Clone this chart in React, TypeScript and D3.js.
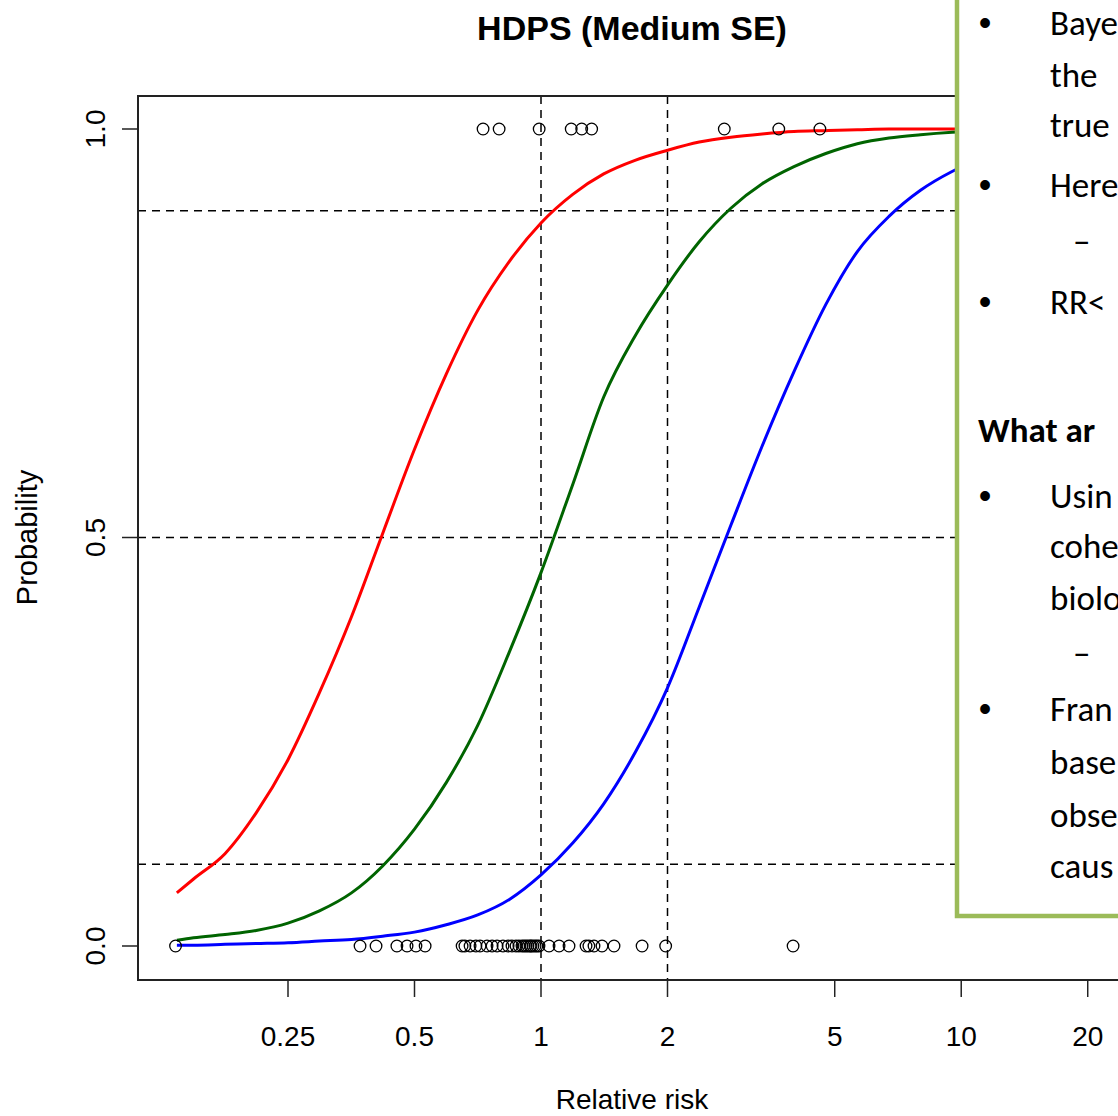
import React from 'react';
import * as d3 from 'd3';

// relative-risk grid the three posterior curves were read at
const rrGrid = [0.136, 0.149, 0.177, 0.21, 0.25, 0.297, 0.354, 0.42, 0.5, 0.595, 0.707, 0.841, 1, 1.19, 1.41, 1.68, 2, 2.38, 2.83, 3.36, 4, 4.76, 5.66, 6.73, 8, 9.51, 11.3];
const redProb = [0.065, 0.082, 0.113, 0.163, 0.228, 0.31, 0.403, 0.505, 0.608, 0.7, 0.778, 0.838, 0.885, 0.92, 0.945, 0.962, 0.974, 0.984, 0.99, 0.994, 0.997, 0.998, 0.999, 1, 1, 1, 1];
const greenProb = [0.007, 0.01, 0.014, 0.019, 0.028, 0.043, 0.065, 0.098, 0.143, 0.2, 0.27, 0.36, 0.457, 0.565, 0.672, 0.748, 0.809, 0.862, 0.903, 0.933, 0.954, 0.97, 0.982, 0.989, 0.993, 0.996, 0.998];
const blueProb = [0.001, 0.001, 0.002, 0.003, 0.004, 0.006, 0.008, 0.012, 0.017, 0.026, 0.038, 0.057, 0.087, 0.126, 0.174, 0.238, 0.316, 0.415, 0.515, 0.612, 0.703, 0.785, 0.85, 0.893, 0.925, 0.948, 0.965];

// observed estimates: outcome 1 (top row) and 0 (bottom row)
const rrTop = [0.728, 0.795, 0.99, 1.18, 1.25, 1.32, 2.73, 3.68, 4.61];
const rrBottom = [0.135, 0.371, 0.405, 0.454, 0.48, 0.504, 0.53, 0.649, 0.659, 0.678, 0.7, 0.716, 0.744, 0.765, 0.786, 0.812, 0.835, 0.853, 0.872, 0.886, 0.901, 0.911, 0.921, 0.931, 0.942, 0.947, 0.957, 0.968, 0.978, 0.989, 1.045, 1.104, 1.166, 1.28, 1.3, 1.337, 1.397, 1.492, 1.74, 1.98, 3.98];

const xTicks = [0.25, 0.5, 1, 2, 5, 10, 20];
const xTickLabels = ['0.25', '0.5', '1', '2', '5', '10', '20'];
const yTicks = [0, 0.5, 1];
const yTickLabels = ['0.0', '0.5', '1.0'];
const vRefs = [1, 2];
const hRefs = [0.1, 0.5, 0.9];

// the slide's text box that covers the right side of the plot (only its visible part)
const boxTexts = ['Baye', 'the', 'true', 'Here', '–', 'RR<', 'What ar', 'Usin', 'cohe', 'biolo', '–', 'Fran', 'base', 'obse', 'caus'];
const boxKinds = ['bullet', 'text', 'text', 'bullet', 'dash', 'bullet', 'head', 'bullet', 'text', 'text', 'dash', 'bullet', 'text', 'text', 'text'];
const boxBaselines = [35, 87, 137, 197, 253, 314, 442, 508, 558, 610, 665, 721, 774, 827, 878];

export default function App() {
  const width = 1118;
  const height = 1116;
  const left = 138;
  const right = 1126;
  const top = 96;
  const bottom = 980;

  const x = d3.scaleLog().domain([1, 2]).range([541, 667.5]);
  const y = d3.scaleLinear().domain([0, 1]).range([946, 129]);

  const line = d3
    .line<[number, number]>()
    .x(d => x(d[0]))
    .y(d => y(d[1]))
    .curve(d3.curveMonotoneX);

  const series = [
    { color: '#ff0000', values: redProb },
    { color: '#006400', values: greenProb },
    { color: '#0000ff', values: blueProb },
  ];

  const axisFont = '"Liberation Sans", Arial, sans-serif';
  const boxFont = 'Carlito, Lato, "Open Sans", sans-serif';

  return (
    <svg
      width={width}
      height={height}
      style={{ position: 'absolute', left: 0, top: 0, display: 'block', background: '#fff' }}
    >
      <rect x={0} y={0} width={width} height={height} fill="#fff" />

      {/* title */}
      <text x={(left + right) / 2} y={40} textAnchor="middle" fontFamily={axisFont} fontWeight="bold" fontSize={34}>
        HDPS (Medium SE)
      </text>

      {/* reference lines */}
      {hRefs.map(h => (
        <line key={'h' + h} x1={left} x2={right} y1={y(h)} y2={y(h)} stroke="#000" strokeWidth={1.5} strokeDasharray="8,6" />
      ))}
      {vRefs.map(v => (
        <line key={'v' + v} x1={x(v)} x2={x(v)} y1={top} y2={bottom} stroke="#000" strokeWidth={1.5} strokeDasharray="8,6" />
      ))}

      {/* curves */}
      {series.map(s => (
        <path
          key={s.color}
          d={line(rrGrid.map((r, i) => [r, s.values[i]] as [number, number])) || ''}
          fill="none"
          stroke={s.color}
          strokeWidth={3}
        />
      ))}

      {/* observations */}
      {rrTop.map((r, i) => (
        <circle key={'t' + i} cx={x(r)} cy={y(1)} r={5.8} fill="none" stroke="#000" strokeWidth={1.3} />
      ))}
      {rrBottom.map((r, i) => (
        <circle key={'b' + i} cx={x(r)} cy={y(0)} r={5.8} fill="none" stroke="#000" strokeWidth={1.3} />
      ))}

      {/* plot frame */}
      <rect x={left} y={top} width={right - left} height={bottom - top} fill="none" stroke="#222" strokeWidth={2} />

      {/* x axis */}
      {xTicks.map((t, i) => (
        <g key={'xt' + t}>
          <line x1={x(t)} x2={x(t)} y1={bottom} y2={bottom + 17} stroke="#222" strokeWidth={1.5} />
          <text x={x(t)} y={1046} textAnchor="middle" fontFamily={axisFont} fontSize={28}>
            {xTickLabels[i]}
          </text>
        </g>
      ))}
      <text x={632} y={1109} textAnchor="middle" fontFamily={axisFont} fontSize={28}>
        Relative risk
      </text>

      {/* y axis */}
      {yTicks.map((t, i) => (
        <g key={'yt' + t}>
          <line x1={left - 16} x2={left} y1={y(t)} y2={y(t)} stroke="#222" strokeWidth={1.5} />
          <text
            transform={`translate(105, ${y(t)}) rotate(-90)`}
            textAnchor="middle"
            fontFamily={axisFont}
            fontSize={28}
          >
            {yTickLabels[i]}
          </text>
        </g>
      ))}
      <text transform={`translate(37, ${y(0.5)}) rotate(-90)`} textAnchor="middle" fontFamily={axisFont} fontSize={29}>
        Probability
      </text>

      {/* overlapping slide text box */}
      <rect x={957} y={-10} width={200} height={926} fill="#fff" stroke="#9bbb59" strokeWidth={4.5} />
      {boxTexts.map((t, i) => {
        const kind = boxKinds[i];
        const tx = kind === 'head' ? 978 : kind === 'dash' ? 1073 : 1050;
        return (
          <g key={'bl' + i}>
            {kind === 'bullet' && (
              <text x={985} y={boxBaselines[i]} textAnchor="middle" fontFamily="Arial, sans-serif" fontSize={36}>
                •
              </text>
            )}
            <text x={tx} y={boxBaselines[i]} fontFamily={boxFont} fontWeight={kind === 'head' ? 'bold' : 'normal'} fontSize={35}>
              {t}
            </text>
          </g>
        );
      })}
    </svg>
  );
}
